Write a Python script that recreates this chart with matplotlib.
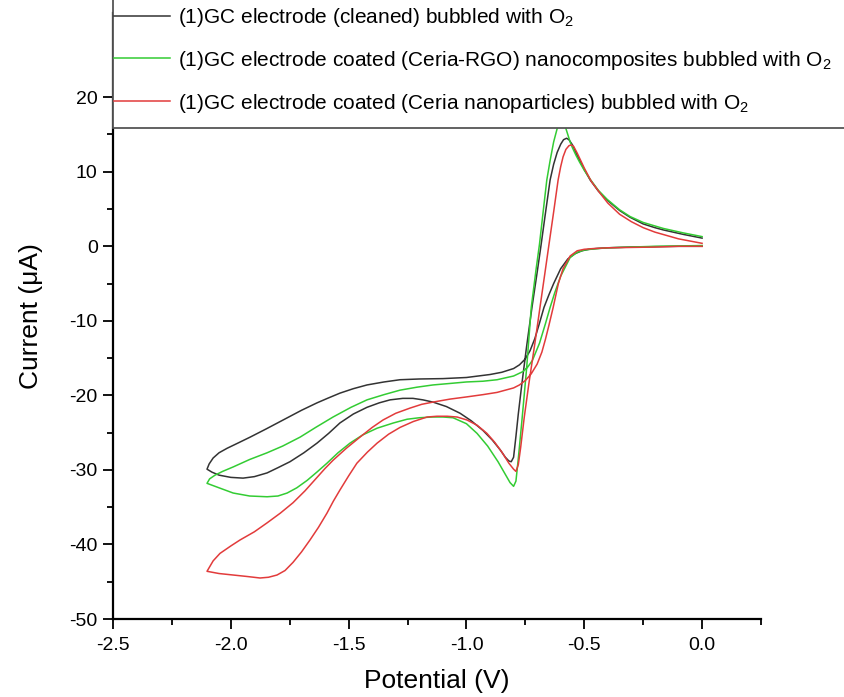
import matplotlib
matplotlib.use("Agg")
import matplotlib.pyplot as plt
from matplotlib.patches import Rectangle
from matplotlib.lines import Line2D
import numpy as np

plt.rcParams['font.family'] = ['Liberation Sans', 'DejaVu Sans']
plt.rcParams['mathtext.fontset'] = 'custom'
plt.rcParams['mathtext.rm'] = 'Liberation Sans'

labels = [
    "(1)GC electrode (cleaned) bubbled with O$_2$",
    "(1)GC electrode coated (Ceria-RGO) nanocomposites bubbled with O$_2$",
    "(1)GC electrode coated (Ceria nanoparticles) bubbled with O$_2$",
]
colors = ["#333333", "#33cc33", "#e23b3b"]

# ---- black: cleaned GC ----
black_fwd_x = [0.0, -0.1, -0.2, -0.3, -0.4, -0.45, -0.48, -0.51, -0.54, -0.57, -0.6, -0.63, -0.65, -0.671,
               -0.69, -0.71, -0.73, -0.75, -0.775, -0.8, -0.85, -0.9, -0.95, -1.0, -1.1, -1.2, -1.282,
               -1.35, -1.422, -1.48, -1.537, -1.59, -1.634, -1.7, -1.778, -1.85, -1.918, -1.97, -2.016,
               -2.05, -2.075, -2.092, -2.101]
black_fwd_y = [0.0, 0.0, -0.05, -0.1, -0.2, -0.3, -0.4, -0.6, -1.0, -1.7, -3.0, -5.0, -6.5, -8.2,
               -10.3, -12.4, -14.0, -15.1, -15.9, -16.4, -16.9, -17.2, -17.4, -17.6, -17.75, -17.8, -17.9,
               -18.2, -18.6, -19.1, -19.7, -20.4, -21.0, -22.0, -23.3, -24.5, -25.6, -26.4, -27.1,
               -27.7, -28.4, -29.2, -29.9]
black_rev_x = [-2.101, -2.08, -2.05, -2.0, -1.948, -1.9, -1.846, -1.8, -1.749, -1.69, -1.634, -1.585,
               -1.537, -1.48, -1.422, -1.37, -1.324, -1.27, -1.227, -1.185, -1.142, -1.085, -1.027, -0.98,
               -0.93, -0.89, -0.857, -0.835, -0.82, -0.81, -0.8, -0.79, -0.78, -0.765, -0.745, -0.722,
               -0.7, -0.685, -0.665, -0.645, -0.63, -0.615, -0.6, -0.588, -0.575, -0.565, -0.55, -0.53,
               -0.5, -0.475, -0.44, -0.403, -0.35, -0.306, -0.25, -0.2, -0.165, -0.08, 0.0]
black_rev_y = [-29.9, -30.3, -30.7, -31.0, -31.1, -30.9, -30.4, -29.7, -28.9, -27.7, -26.4, -25.1,
               -23.7, -22.5, -21.6, -21.0, -20.6, -20.4, -20.4, -20.6, -20.9, -21.5, -22.4, -23.4,
               -24.7, -26.0, -27.3, -28.3, -28.8, -28.9, -28.3, -25.5, -22.5, -18.5, -13.5, -8.2,
               -3.5, -0.2, 4.4, 8.9, 11.0, 12.6, 13.7, 14.3, 14.5, 14.3, 13.6, 12.2,
               10.3, 8.9, 7.4, 6.2, 4.8, 3.9, 3.0, 2.5, 2.2, 1.6, 1.1]

# ---- green: Ceria-RGO ----
green_fwd_x = [0.0, -0.1, -0.2, -0.3, -0.4, -0.46, -0.5, -0.53, -0.56, -0.6, -0.625, -0.645, -0.665,
               -0.69, -0.72, -0.74, -0.76, -0.8, -0.87, -0.93, -1.0, -1.07, -1.142, -1.21, -1.282, -1.35,
               -1.422, -1.49, -1.566, -1.64, -1.706, -1.78, -1.846, -1.92, -1.99, -2.035, -2.067, -2.09,
               -2.101]
green_fwd_y = [0.1, 0.05, 0.0, -0.1, -0.2, -0.35, -0.5, -0.8, -1.5, -4.0, -6.2, -8.2, -10.4,
               -13.0, -15.3, -16.2, -16.8, -17.4, -17.9, -18.1, -18.2, -18.4, -18.6, -18.9, -19.3, -19.9,
               -20.6, -21.6, -22.9, -24.3, -25.6, -26.8, -27.7, -28.6, -29.6, -30.2, -30.7, -31.2,
               -31.8]
green_rev_x = [-2.101, -2.05, -1.99, -1.92, -1.846, -1.8, -1.761, -1.72, -1.676, -1.635, -1.592, -1.545,
               -1.494, -1.44, -1.379, -1.31, -1.252, -1.2, -1.142, -1.1, -1.057, -1.0, -0.955, -0.91,
               -0.866, -0.835, -0.815, -0.8, -0.79, -0.78, -0.765, -0.745, -0.725, -0.705, -0.69, -0.675,
               -0.659, -0.645, -0.63, -0.615, -0.603, -0.59, -0.58, -0.57, -0.56, -0.55, -0.535, -0.52,
               -0.5, -0.475, -0.44, -0.403, -0.35, -0.306, -0.25, -0.165, -0.08, 0.0]
green_rev_y = [-31.8, -32.4, -33.1, -33.5, -33.6, -33.5, -33.1, -32.4, -31.4, -30.3, -29.1, -27.7,
               -26.4, -25.3, -24.4, -23.7, -23.2, -23.0, -22.9, -22.9, -23.0, -23.8, -25.1, -26.8,
               -28.9, -30.6, -31.7, -32.2, -31.5, -28.5, -23.5, -16.5, -8.2, -3.2, 0.3, 4.5,
               8.9, 11.5, 14.0, 15.8, 16.6, 16.7, 16.0, 15.0, 14.0, 13.2, 12.2, 11.3,
               10.2, 9.0, 7.5, 6.3, 4.9, 4.0, 3.2, 2.4, 1.8, 1.3]

# ---- red: Ceria nanoparticles ----
red_fwd_x = [0.0, -0.1, -0.2, -0.3, -0.4, -0.46, -0.5, -0.53, -0.56, -0.59, -0.61, -0.632, -0.65,
             -0.665, -0.68, -0.7, -0.725, -0.75, -0.775, -0.8, -0.87, -0.93, -0.998, -1.07, -1.142,
             -1.19, -1.239, -1.3, -1.354, -1.4, -1.452, -1.51, -1.566, -1.6, -1.634, -1.685, -1.736,
             -1.79, -1.846, -1.9, -1.961, -2.0, -2.046, -2.075, -2.101]
red_fwd_y = [0.0, 0.0, -0.1, -0.15, -0.2, -0.3, -0.4, -0.6, -1.3, -3.0, -5.0, -8.2, -10.6,
             -12.5, -14.2, -15.8, -17.1, -18.0, -18.6, -19.0, -19.6, -19.9, -20.2, -20.5, -20.9,
             -21.2, -21.7, -22.4, -23.3, -24.3, -25.6, -27.1, -28.7, -29.8, -31.0, -32.8, -34.4,
             -35.8, -37.1, -38.3, -39.4, -40.2, -41.2, -42.2, -43.6]
red_rev_x = [-2.101, -2.05, -1.99, -1.93, -1.876, -1.84, -1.804, -1.77, -1.736, -1.7, -1.664, -1.628,
             -1.592, -1.565, -1.537, -1.5, -1.465, -1.42, -1.379, -1.33, -1.282, -1.225, -1.167, -1.125,
             -1.082, -1.04, -0.998, -0.955, -0.913, -0.88, -0.85, -0.82, -0.8, -0.79, -0.78, -0.77,
             -0.755, -0.735, -0.71, -0.688, -0.668, -0.65, -0.63, -0.611, -0.6, -0.59, -0.578, -0.565,
             -0.555, -0.545, -0.53, -0.515, -0.5, -0.47, -0.43, -0.4, -0.35, -0.3, -0.25, -0.2, -0.1, 0.0]
red_rev_y = [-43.6, -43.9, -44.1, -44.3, -44.5, -44.4, -44.1, -43.5, -42.4, -41.0, -39.4, -37.7,
             -35.8, -34.2, -32.7, -30.8, -29.1, -27.6, -26.4, -25.2, -24.3, -23.5, -22.9, -22.8,
             -22.8, -22.9, -23.3, -24.0, -25.1, -26.3, -27.6, -29.1, -29.9, -30.2, -29.3, -27.0,
             -23.0, -18.4, -13.1, -8.2, -3.8, 0.2, 4.6, 8.9, 10.7, 12.0, 13.0, 13.5,
             13.6, 13.4, 12.5, 11.5, 10.5, 8.7, 7.0, 5.8, 4.3, 3.3, 2.5, 1.9, 1.0, 0.4]

xticks = [-2.5, -2.0, -1.5, -1.0, -0.5, 0.0]
yticks = [-50, -40, -30, -20, -10, 0, 10, 20]

W, H = 845, 697
fig = plt.figure(figsize=(W / 100, H / 100), dpi=100)
ax = fig.add_axes([113 / W, 1 - 619 / H, (761 - 113) / W, (619 - 13) / H])

series = [(black_fwd_x, black_fwd_y, black_rev_x, black_rev_y),
          (green_fwd_x, green_fwd_y, green_rev_x, green_rev_y),
          (red_fwd_x, red_fwd_y, red_rev_x, red_rev_y)]
for (fx, fy, rx, ry), c in zip(series, colors):
    x = np.concatenate([fx, rx])
    y = np.concatenate([fy, ry])
    ax.plot(x, y, color=c, lw=1.1, solid_joinstyle='round')

ax.set_xlim(-2.5, 0.25)
ax.set_ylim(-50, 31.3)
ax.set_xticks(xticks)
ax.set_xticklabels([f"{v:.1f}" for v in xticks])
ax.set_yticks(yticks)
ax.set_yticklabels([f"{v:d}" for v in yticks])
ax.set_xticks(np.arange(-2.25, 0.3, 0.5), minor=True)
ax.set_yticks(np.arange(-45, 20, 10), minor=True)
for s in ['top', 'right']:
    ax.spines[s].set_visible(False)
for s in ['left', 'bottom']:
    ax.spines[s].set_linewidth(1.6)
ax.tick_params(which='major', direction='out', length=7, width=1.3, labelsize=14)
ax.tick_params(axis='x', which='major', pad=6)
ax.tick_params(axis='y', which='major', pad=4)
ax.tick_params(which='minor', direction='out', length=4, width=1.3)
ax.set_xlabel("Potential (V)", fontsize=19, labelpad=11)
ax.set_ylabel("Current (\u03bcA)", fontsize=19, labelpad=19)

# legend box overlaying the top of the plot
box = Rectangle((113 / W, 1 - 128 / H), 1.0, 0.5, transform=fig.transFigure,
                facecolor='white', edgecolor='#555555', lw=1.3, zorder=3)
fig.add_artist(box)
handles = [Line2D([], [], color=c, lw=1.1) for c in colors]
leg = fig.legend(handles, labels, loc='upper left', bbox_to_anchor=(114 / W, 1 - 6 / H),
                 frameon=False, fontsize=15, handlelength=2.7, handletextpad=0.35,
                 labelspacing=0.95, borderpad=0, borderaxespad=0)
leg.set_zorder(4)

fig.savefig("out.png", dpi=100)
